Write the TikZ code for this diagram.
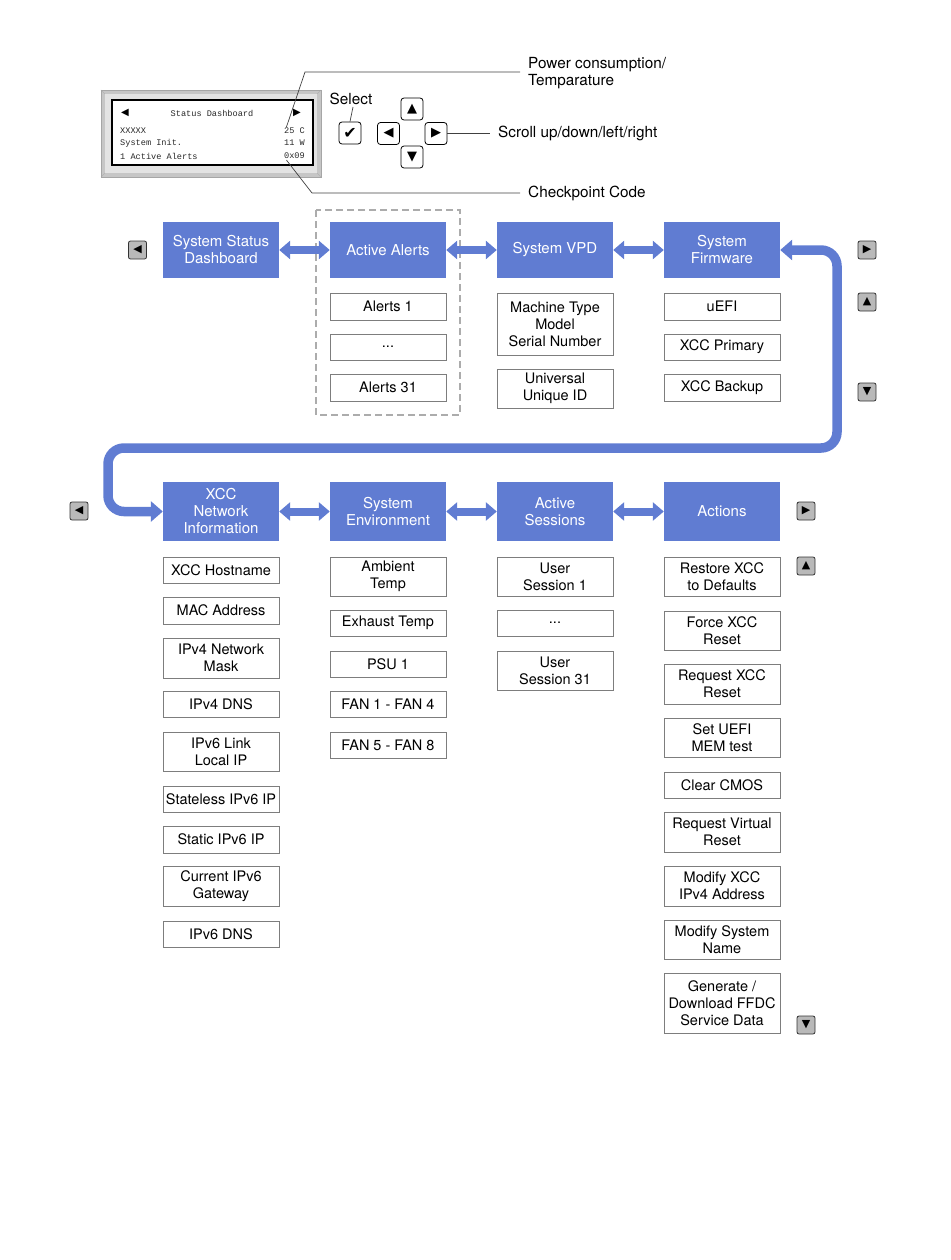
\documentclass[tikz,border=0pt]{standalone}
\usepackage{fontspec}
\setmainfont{TeX Gyre Heros}
\newfontfamily\symf{DejaVu Sans}
\newfontfamily\lcdf{Liberation Mono}
\usetikzlibrary{arrows.meta}
\definecolor{myblue}{RGB}{96,124,210}
\definecolor{boxgray}{RGB}{125,125,125}
\definecolor{btngray}{RGB}{185,185,185}
\definecolor{lcdtext}{RGB}{40,40,40}
\begin{document}
\begin{tikzpicture}[x=1pt,y=-1pt,
  bluebox/.style={fill=myblue,text=white,minimum width=116pt,minimum height=56pt,inner sep=0pt,align=center,font=\fontsize{15}{17}\selectfont},
  wbox/.style={draw=boxgray,line width=0.9pt,fill=white,minimum width=116pt,inner sep=0pt,align=center,font=\fontsize{14.5}{17}\selectfont},
  sbtn/.style={draw=black!80,fill=btngray,rounded corners=2pt,minimum size=18pt,inner sep=0pt,line width=0.8pt,font=\symf\fontsize{11}{11}\selectfont},
  tbtn/.style={draw=black,fill=white,rounded corners=3pt,minimum size=22pt,inner sep=0pt,line width=0.8pt,font=\symf\fontsize{13}{13}\selectfont},
  dbl/.style={draw=myblue,line width=8pt,{Triangle[width=18pt,length=11pt]}-{Triangle[width=18pt,length=11pt]}},
  loop/.style={draw=myblue,line width=9.5pt,rounded corners=16pt,{Triangle[width=20pt,length=12pt]}-{Triangle[width=20pt,length=12pt]}},
  lead/.style={draw=black!75,line width=0.7pt},
  lbl/.style={font=\fontsize{15.3}{17}\selectfont,inner sep=0pt,align=left},
  lcd/.style={font=\lcdf\fontsize{8.6}{9}\selectfont,text=lcdtext,inner sep=0pt}
]
\useasboundingbox (0,0) rectangle (950,1260);

% ---------- LCD panel ----------
\fill[gray!45] (101,90) rectangle (321,177);
\fill[gray!22] (105,94) rectangle (317,173);
\draw[gray!60,line width=0.6pt] (101,90) -- (105,94) (321,90) -- (317,94) (101,177) -- (105,173) (321,177) -- (317,173);
\draw[gray!70,line width=0.8pt] (101,90) rectangle (321,177);
\draw[black,line width=2.2pt,fill=white] (112,100) rectangle (313,165);
\node[lcd] (lcdtitle) at (212,113) {Status Dashboard};
\node[lcd,font=\symf\fontsize{10}{10}\selectfont,text=black] (lcdl) at (125,113) {◀};
\node[lcd,font=\symf\fontsize{10}{10}\selectfont,text=black] (lcdr) at (297,113) {▶};
\node[lcd,anchor=west] (l1) at (120,131) {XXXXX};
\node[lcd,anchor=west] (l2) at (120,143) {System Init.};
\node[lcd,anchor=west] (l3) at (120,156) {1 Active Alerts};
\node[lcd,anchor=east] (temp) at (305,131) {25 C};
\node[lcd,anchor=east] (pw) at (305,143) {11 W};
\node[lcd,anchor=east] (cp) at (305,156) {0x09};

% ---------- buttons ----------
\node[font=\fontsize{15.3}{17}\selectfont,inner sep=0pt] (sel) at (351,99) {Select};
\node[tbtn,font=\symf\fontsize{16}{16}\selectfont] (chk) at (350,133) {✔};
\node[tbtn] (bup) at (412,109) {▲};
\node[tbtn] (bleft) at (388.5,133.5) {◀};
\node[tbtn] (bright) at (436,133.5) {▶};
\node[tbtn] (bdown) at (412,157) {▼};
\draw[lead] (353,107) -- (chk.north);

% ---------- labels ----------
\node[lbl,anchor=west] (pwr) at (528,73.5) {Power consumption/\\Temparature};
\node[lbl,anchor=west] (scr) at (498,133) {Scroll up/down/left/right};
\node[lbl,anchor=west] (ckp) at (528,193) {Checkpoint Code};
\coordinate (pk) at (305,72);
\coordinate (pe) at (520,72);
\coordinate (ck) at (312,193);
\coordinate (ce) at (520,193);
\draw[lead] (temp.north) ++(-8,-1) -- (pk) -- (pe);
\draw[lead] (cp.south) ++(-8,1) -- (ck) -- (ce);
\draw[lead] (bright.east) -- (490,133.5);

% ---------- row 1 ----------
\draw[gray!65,line width=1.6pt,dash pattern=on 7pt off 4pt] (316,210) rectangle (460,415);
\node[bluebox] (ssd) at (221,250) {System Status\\Dashboard};
\node[bluebox] (aa) at (388,250) {Active Alerts};
\node[bluebox] (vpd) at (555,250) {System VPD};
\node[bluebox] (fw) at (722,250) {System\\Firmware};

\node[wbox,minimum height=27pt] (al1) at (388,306.5) {Alerts 1};
\node[wbox,minimum height=26pt] (aldots) at (388,347) {...};
\node[wbox,minimum height=27pt] (al31) at (388,387.5) {Alerts 31};
\node[wbox,minimum height=62pt] (mtm) at (555,324) {Machine Type\\Model\\Serial Number};
\node[wbox,minimum height=39pt] (uuid) at (555,388.5) {Universal\\Unique ID};
\node[wbox,minimum height=27pt] (uefi) at (722,306.5) {uEFI};
\node[wbox,minimum height=26pt] (xccp) at (722,347) {XCC Primary};
\node[wbox,minimum height=27pt] (xccb) at (722,387.5) {XCC Backup};

\node[sbtn] (r1l) at (137.5,250) {◀};
\node[sbtn] (r1r) at (867,250) {▶};
\node[sbtn] (r1u) at (867,302) {▲};
\node[sbtn] (r1d) at (867,392) {▼};

\draw[dbl] (ssd.east) -- (aa.west);
\draw[dbl] (aa.east) -- (vpd.west);
\draw[dbl] (vpd.east) -- (fw.west);

% ---------- row 2 ----------
\node[bluebox,minimum height=59pt] (xcc) at (221,511.5) {XCC\\Network\\Information};
\node[bluebox,minimum height=59pt] (env) at (388,511.5) {System\\Environment};
\node[bluebox,minimum height=59pt] (ses) at (555,511.5) {Active\\Sessions};
\node[bluebox,minimum height=59pt] (act) at (722,511.5) {Actions};

\coordinate (lp1) at (837,250);
\coordinate (lp2) at (837,448);
\coordinate (lp3) at (108,448);
\coordinate (lp4) at (108,511.5);
\draw[loop] (fw.east) -- (lp1) -- (lp2) -- (lp3) -- (lp4) -- (xcc.west);

\draw[dbl] (xcc.east) -- (env.west);
\draw[dbl] (env.east) -- (ses.west);
\draw[dbl] (ses.east) -- (act.west);

\node[sbtn] (r2l) at (79,511) {◀};
\node[sbtn] (r2r) at (806,511) {▶};
\node[sbtn] (r2u) at (806,566) {▲};
\node[sbtn] (r2d) at (806,1025) {▼};

% column 1
\node[wbox,minimum height=26pt] (n1) at (221,570) {XCC Hostname};
\node[wbox,minimum height=27pt] (n2) at (221,610.5) {MAC Address};
\node[wbox,minimum height=40pt] (n3) at (221,658) {IPv4 Network\\Mask};
\node[wbox,minimum height=26pt] (n4) at (221,704) {IPv4 DNS};
\node[wbox,minimum height=39pt] (n5) at (221,751.5) {IPv6 Link\\Local IP};
\node[wbox,minimum height=26pt] (n6) at (221,799) {Stateless IPv6 IP};
\node[wbox,minimum height=27pt] (n7) at (221,839.5) {Static IPv6 IP};
\node[wbox,minimum height=40pt] (n8) at (221,886) {Current IPv6\\Gateway};
\node[wbox,minimum height=26pt] (n9) at (221,934) {IPv6 DNS};
% column 2
\node[wbox,minimum height=39pt] (e1) at (388,576.5) {Ambient\\Temp};
\node[wbox,minimum height=26pt] (e2) at (388,623) {Exhaust Temp};
\node[wbox,minimum height=26pt] (e3) at (388,664) {PSU 1};
\node[wbox,minimum height=26pt] (e4) at (388,704) {FAN 1 - FAN 4};
\node[wbox,minimum height=26pt] (e5) at (388,745) {FAN 5 - FAN 8};
% column 3
\node[wbox,minimum height=39pt] (s1) at (555,576.5) {User\\Session 1};
\node[wbox,minimum height=26pt] (s2) at (555,623) {...};
\node[wbox,minimum height=39pt] (s3) at (555,670.5) {User\\Session 31};
% column 4
\node[wbox,minimum height=39pt] (a1) at (722,576.5) {Restore XCC\\to Defaults};
\node[wbox,minimum height=39pt] (a2) at (722,630.5) {Force XCC\\Reset};
\node[wbox,minimum height=40pt] (a3) at (722,684) {Request XCC\\Reset};
\node[wbox,minimum height=39pt] (a4) at (722,737.5) {Set UEFI\\MEM test};
\node[wbox,minimum height=26pt] (a5) at (722,785) {Clear CMOS};
\node[wbox,minimum height=40pt] (a6) at (722,832) {Request Virtual\\Reset};
\node[wbox,minimum height=40pt] (a7) at (722,886) {Modify XCC\\IPv4 Address};
\node[wbox,minimum height=39pt] (a8) at (722,939.5) {Modify System\\Name};
\node[wbox,minimum height=60pt] (a9) at (722,1003) {Generate /\\Download FFDC\\Service Data};
\end{tikzpicture}
\end{document}
